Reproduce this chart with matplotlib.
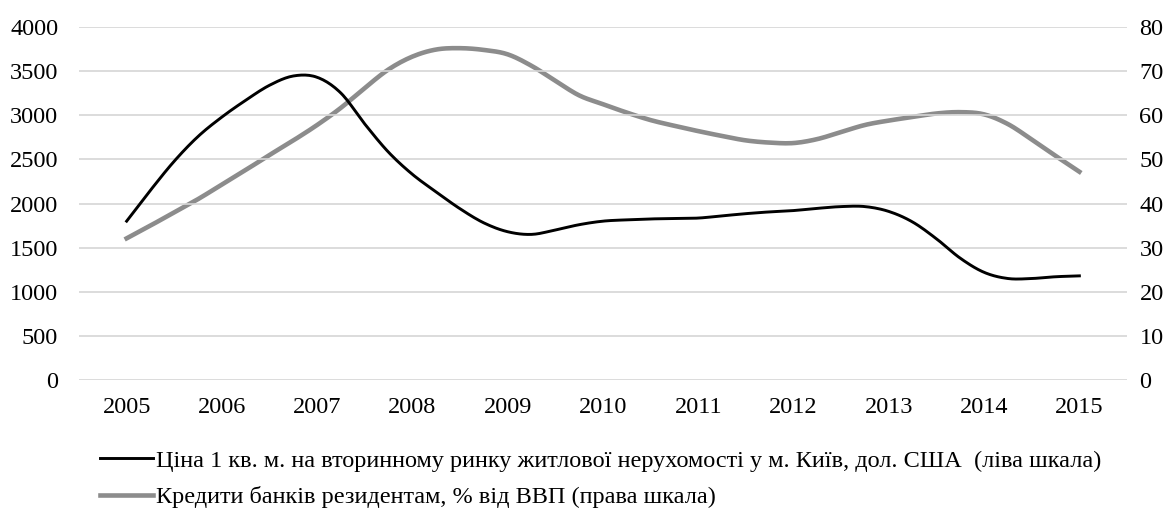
#Kyiv housing price vs bank credit chart
import matplotlib.pyplot as plt
import numpy as np

#quarterly points
years = [2005 + 0.25 * i for i in range(41)]

price = [1800, 2150, 2480, 2760, 2980, 3170, 3340, 3445, 3430,
         3250, 2900, 2580, 2330, 2130, 1940, 1780, 1680, 1650,
         1700, 1760, 1800, 1815, 1825, 1830, 1835, 1860, 1885,
         1905, 1920, 1945, 1965, 1965, 1910, 1790, 1600, 1380,
         1220, 1150, 1150, 1170, 1180]

credit = [32.1, 35.0, 38.0, 41.0, 44.3, 47.6, 51.0, 54.3, 57.8,
          61.7, 66.2, 70.4, 73.3, 74.9, 75.2, 74.8, 73.8, 71.2,
          67.8, 64.5, 62.5, 60.6, 58.9, 57.6, 56.4, 55.3, 54.3,
          53.8, 53.7, 54.6, 56.2, 57.8, 58.8, 59.6, 60.4, 60.7,
          60.2, 58.0, 54.5, 50.8, 47.2]

tick_years = list(range(2005, 2016))
left_ticks = list(range(0, 4001, 500))
right_ticks = list(range(0, 81, 10))

label_price = 'Ціна 1 кв. м. на вторинному ринку житлової нерухомості у м. Київ, дол. США  (ліва шкала)'
label_credit = 'Кредити банків резидентам, % від ВВП (права шкала)'


#smooth line through the points (like excel's smoothed line)
def smooth(x, y, n=12):
    x = np.asarray(x, float)
    y = np.asarray(y, float)
    px = np.concatenate([[2*x[0]-x[1]], x, [2*x[-1]-x[-2]]])
    py = np.concatenate([[2*y[0]-y[1]], y, [2*y[-1]-y[-2]]])
    t = np.linspace(0, 1, n, endpoint=False)
    xs, ys = [], []
    for i in range(1, len(px) - 2):
        for p, out in ((px, xs), (py, ys)):
            p0, p1, p2, p3 = p[i-1], p[i], p[i+1], p[i+2]
            out.extend(0.5*((2*p1) + (-p0+p2)*t + (2*p0-5*p1+4*p2-p3)*t**2
                            + (-p0+3*p1-3*p2+p3)*t**3))
    xs.append(x[-1])
    ys.append(y[-1])
    return xs, ys


plt.rcParams['font.family'] = ['Liberation Serif', 'DejaVu Serif']
fs = 17.5

fig = plt.figure(figsize=(11.74, 5.15), dpi=100)
ax = fig.add_axes([79/1174, 1 - 380/515, (1127-79)/1174, (380-27)/515])
ax2 = ax.twinx()

#grid lines drawn on the left axis
for v in left_ticks:
    ax.axhline(v, color='#d6d6d6', lw=1.2, zorder=0)

sx, sy = smooth(years, price)
l1, = ax.plot(sx, sy, color='black', lw=2.1, zorder=3)
sx, sy = smooth(years, credit)
l2, = ax2.plot(sx, sy, color='#8c8c8c', lw=3.3, zorder=2)

ax.set_zorder(ax2.get_zorder() + 1)
ax.patch.set_visible(False)

ax.set_xlim(2004.5, 2015.5)
ax.set_ylim(0, 4000)
ax2.set_ylim(0, 80)
ax.set_xticks(tick_years)
ax.set_yticks(left_ticks)
ax2.set_yticks(right_ticks)

for a in (ax, ax2):
    for s in a.spines.values():
        s.set_visible(False)

ax.tick_params(axis='y', length=0, labelsize=fs, pad=15)
ax.tick_params(axis='x', length=0, labelsize=fs, pad=12)
ax2.tick_params(axis='y', length=0, labelsize=fs, pad=9)

fig.legend([l1, l2], [label_price, label_credit], loc='center left',
           bbox_to_anchor=(90/1174, 1 - 479/515), frameon=False,
           fontsize=fs, handlelength=2.2, handletextpad=0.1,
           labelspacing=0.58, borderaxespad=0)

fig.savefig('out.png', dpi=100)
